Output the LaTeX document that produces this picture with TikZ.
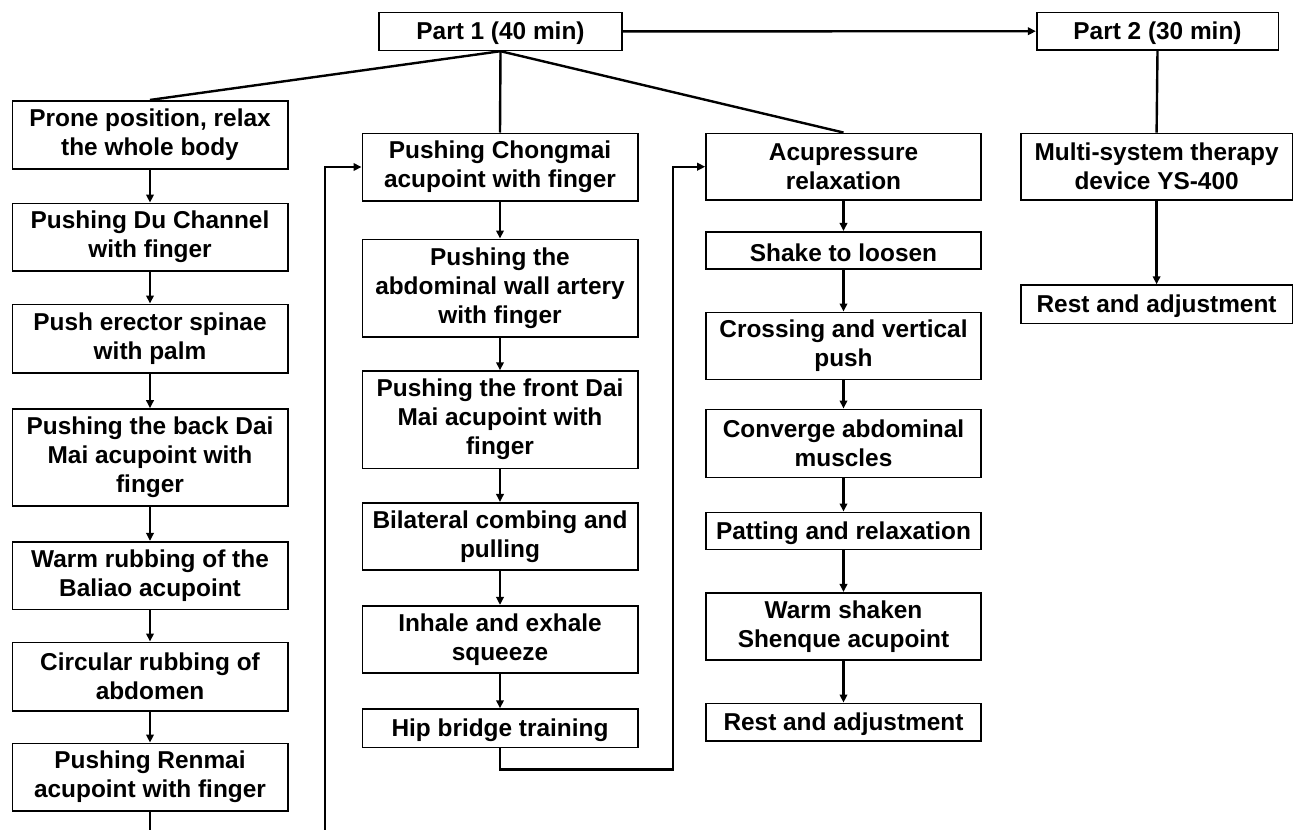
\documentclass[tikz,border=0pt]{standalone}
\usepackage{fontspec}
\setmainfont{Liberation Sans}
\usetikzlibrary{arrows.meta}
\tikzset{
  box/.style={draw=black, line width=1.6pt, fill=white, inner sep=0pt, align=center,
    font=\bfseries\fontsize{24.4}{29}\selectfont,
    execute at begin node={\rule{0pt}{22pt}}},
  conn/.style={line width=2.4pt},
  arr/.style={line width=2.4pt, -{Triangle[length=8pt,width=7.5pt]}},
}
\newcommand{\bx}[6]{\node[box, minimum width=#4pt, minimum height=#5pt] (#1) at (#2,#3) {#6};}
\begin{document}
\begin{tikzpicture}[x=1pt,y=-1pt]
\useasboundingbox (0,0) rectangle (1294,830);
% top
\bx{pa}{500.5}{31.4}{243}{38}{Part 1 (40 min)}
\bx{pb}{1157.5}{31.2}{241.6}{37.7}{Part 2 (30 min)}
% column 1
\bx{p1}{150}{134.9}{275.4}{68.3}{Prone position, relax\\the whole body}
\bx{p2}{150}{237.2}{275.4}{67.7}{Pushing Du Channel\\with finger}
\bx{p3}{150}{338.5}{275.4}{68.4}{Push erector spinae\\with palm}
\bx{p4}{150}{457.5}{275.4}{97}{Pushing the back Dai\\Mai acupoint with\\finger}
\bx{p5}{150}{575.5}{275.4}{67.6}{Warm rubbing of the\\Baliao acupoint}
\bx{p6}{150}{676.5}{275.4}{68.4}{Circular rubbing of\\abdomen}
\bx{p7}{150}{777.2}{275.4}{67.7}{Pushing Renmai\\acupoint with finger}
% column 2
\bx{q1}{500}{167}{275.4}{67.4}{Pushing Chongmai\\acupoint with finger}
\bx{q2}{500}{288}{275.4}{97.4}{Pushing the\\abdominal wall artery\\with finger}
\bx{q3}{500}{419.7}{275.4}{97.3}{Pushing the front Dai\\Mai acupoint with\\finger}
\bx{q4}{500}{536.4}{275.4}{67.3}{Bilateral combing and\\pulling}
\bx{q5}{500}{639.2}{275.4}{67}{Inhale and exhale\\squeeze}
\bx{q6}{500}{728.2}{275.4}{38.3}{Hip bridge training}
% column 3
\bx{r1}{843.5}{166.7}{275}{66.7}{Acupressure\\relaxation}
\bx{r2}{843.5}{250.4}{275}{37.3}{Shake to loosen}
\bx{r3}{843.5}{345.8}{275}{67}{Crossing and vertical\\push}
\bx{r4}{843.5}{443.3}{275}{68}{Converge abdominal\\muscles}
\bx{r5}{843.5}{530.8}{275}{37}{Patting and relaxation}
\bx{r6}{843.5}{626.4}{275}{67.3}{Warm shaken\\Shenque acupoint}
\bx{r7}{843.5}{722.2}{275}{37.7}{Rest and adjustment}
% column 4
\bx{s1}{1156.6}{166.7}{271.8}{66.7}{Multi-system therapy\\device YS-400}
\bx{s2}{1156.6}{304.2}{271.8}{38.3}{Rest and adjustment}
% connectors from Part 1
\draw[arr] (pa.east) -- (pb.west);
\draw[conn] (pa.south) -- (p1.north);
\draw[conn] (pa.south) -- (q1.north);
\draw[conn] (pa.south) -- (r1.north);
\draw[conn] (pb.south) -- (s1.north);
\draw[arr] (s1.south) -- (s2.north);
% chains
\foreach \a/\b in {p1/p2,p2/p3,p3/p4,p4/p5,p5/p6,p6/p7,
                   q1/q2,q2/q3,q3/q4,q4/q5,q5/q6,
                   r1/r2,r2/r3,r3/r4,r4/r5,r5/r6,r6/r7}
  \draw[arr] (\a.south) -- (\b.north);
% loops
\coordinate (la) at (150,850);
\coordinate (lb) at (325,850);
\draw[arr] (p7.south) -- (la) -- (lb) |- (q1.west);
\coordinate (ha) at (500,769.3);
\coordinate (hb) at (672.7,769.3);
\draw[arr] (q6.south) -- (ha) -- (hb) |- (r1.west);
\end{tikzpicture}
\end{document}
